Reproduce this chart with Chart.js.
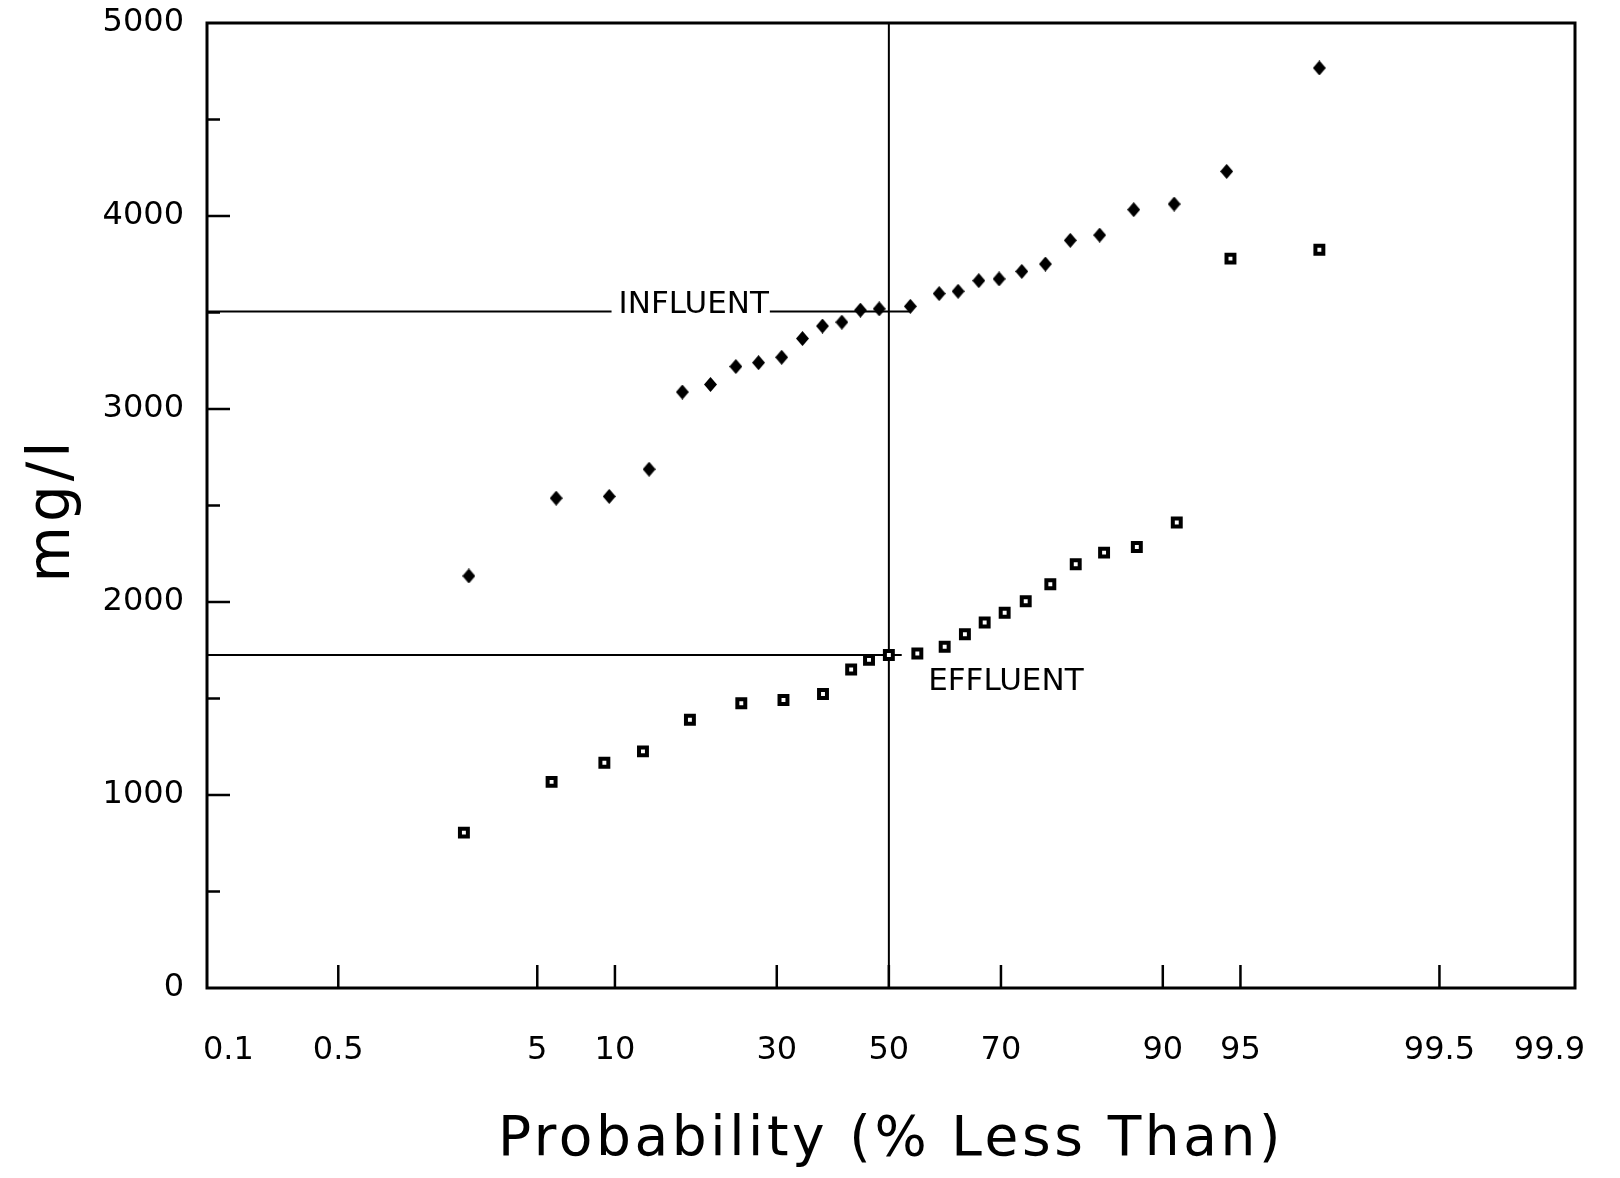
<!DOCTYPE html>
<html>
<head>
<meta charset="utf-8">
<script src="https://cdn.jsdelivr.net/npm/chart.js@4.4.0/dist/chart.umd.min.js"></script>
<style>
  html, body { margin: 0; padding: 0; background: #ffffff; }
  #wrap { width: 1620px; height: 1178px; }
</style>
</head>
<body>
<div id="wrap"><canvas id="c" width="1620" height="1178"></canvas></div>
<script>
// ---- axis definitions ----
const probTicks = [0.1, 0.5, 5, 10, 30, 50, 70, 90, 95, 99.5, 99.9];   // % less than
const xRangeZ = [-3.19, 3.21];        // axis extent in standard-normal units
const yMin = 0, yMax = 5000, yMajorStep = 1000, yMinorStep = 500;

// ---- data ----
const influentProb = [2.47, 5.98, 9.54, 13.1, 16.7, 20.2, 23.7, 27.1, 30.8, 34.3, 37.8, 41.3, 44.7, 48.2,
                      54.0, 59.3, 62.7, 66.3, 69.7, 73.3, 76.8, 80.2, 83.8, 87.4, 90.9, 94.3, 97.8];
const influentConc = [2135, 2538, 2547, 2688, 3088, 3127, 3220, 3240, 3268, 3365, 3430, 3450, 3512, 3519,
                      3532, 3598, 3610, 3665, 3674, 3713, 3751, 3874, 3901, 4033, 4062, 4231, 4767];
const effluentProb = [2.34, 5.73, 9.16, 12.5, 17.6, 24.5, 31.1, 37.9, 43.0, 46.3, 50.0, 55.3,
                      60.3, 63.9, 67.3, 70.6, 73.9, 77.5, 80.9, 84.3, 87.7, 91.1, 94.5, 97.8];
const effluentConc = [805, 1068, 1167, 1226, 1390, 1475, 1492, 1523, 1650, 1700, 1725, 1733,
                      1768, 1833, 1894, 1944, 2004, 2092, 2196, 2256, 2285, 2412, 3779, 3825];

// median reference lines
const medianProb = 50;
const influentMedian = 3505, influentLineEndProb = 53.9;
const effluentMedian = 1725, effluentLineEndProb = 52.4;

// annotation labels (anchored in data units)
const influentLabel = { text: 'INFLUENT', prob: 10.3, value: 3505 };
const effluentLabel = { text: 'EFFLUENT', prob: 57.3, value: 1543 };

const xTitle = 'Probability (% Less Than)';
const yTitle = 'mg/l';

// ---- inverse standard normal CDF (Acklam) ----
function probit(pct) {
  const p = pct / 100;
  const a = [-3.969683028665376e+01, 2.209460984245205e+02, -2.759285104469687e+02, 1.383577518672690e+02, -3.066479806614716e+01, 2.506628277459239e+00];
  const b = [-5.447609879822406e+01, 1.615858368580409e+02, -1.556989798598866e+02, 6.680131188771972e+01, -1.328068155288572e+01];
  const c = [-7.784894002430293e-03, -3.223964580411365e-01, -2.400758277161838e+00, -2.549732539343734e+00, 4.374664141464968e+00, 2.938163982698783e+00];
  const d = [7.784695709041462e-03, 3.224671290700398e-01, 2.445134137142996e+00, 3.754408661907416e+00];
  const pl = 0.02425, ph = 1 - pl;
  let q, r;
  if (p < pl) {
    q = Math.sqrt(-2 * Math.log(p));
    return (((((c[0]*q+c[1])*q+c[2])*q+c[3])*q+c[4])*q+c[5]) / ((((d[0]*q+d[1])*q+d[2])*q+d[3])*q+1);
  }
  if (p <= ph) {
    q = p - 0.5; r = q * q;
    return (((((a[0]*r+a[1])*r+a[2])*r+a[3])*r+a[4])*r+a[5])*q / (((((b[0]*r+b[1])*r+b[2])*r+b[3])*r+b[4])*r+1);
  }
  q = Math.sqrt(-2 * Math.log(1 - p));
  return -(((((c[0]*q+c[1])*q+c[2])*q+c[3])*q+c[4])*q+c[5]) / ((((d[0]*q+d[1])*q+d[2])*q+d[3])*q+1);
}

function toPoints(probs, vals) { return probs.map((p, i) => ({ x: probit(p), y: vals[i] })); }

function diamond(w, h) {
  const cv = document.createElement('canvas');
  cv.width = w; cv.height = h;
  const g = cv.getContext('2d');
  g.fillStyle = '#000';
  g.beginPath();
  g.moveTo(w / 2, 0); g.lineTo(w, h / 2); g.lineTo(w / 2, h); g.lineTo(0, h / 2);
  g.closePath(); g.fill();
  return cv;
}

const FONT = '"DejaVu Sans", "Liberation Sans", sans-serif';
Chart.defaults.color = '#000';
Chart.defaults.font.family = FONT;

const probPlot = {
  id: 'probPlot',
  afterDatasetsDraw(chart) {
    const ctx = chart.ctx, xs = chart.scales.x, ys = chart.scales.y;
    ctx.save();
    ctx.font = '31px ' + FONT;
    ctx.textBaseline = 'alphabetic';
    ctx.textAlign = 'left';
    // INFLUENT label sits on its median line
    let x = xs.getPixelForValue(probit(influentLabel.prob));
    let y = ys.getPixelForValue(influentLabel.value);
    let w = ctx.measureText(influentLabel.text).width;
    ctx.fillStyle = '#fff';
    ctx.fillRect(x - 7, y - 26, w + 8, 29);
    ctx.fillStyle = '#000';
    ctx.fillText(influentLabel.text, x, y + 1);
    // EFFLUENT label
    x = xs.getPixelForValue(probit(effluentLabel.prob));
    y = ys.getPixelForValue(effluentLabel.value);
    ctx.fillText(effluentLabel.text, x, y);
    ctx.restore();
  },
  afterDraw(chart) {
    const ctx = chart.ctx, a = chart.chartArea, xs = chart.scales.x, ys = chart.scales.y;
    ctx.save();
    ctx.strokeStyle = '#000';
    // frame
    ctx.lineWidth = 3;
    ctx.strokeRect(a.left, a.top, a.right - a.left, a.bottom - a.top);
    // inward tick marks
    ctx.lineWidth = 2.5;
    ctx.beginPath();
    for (let v = yMin + yMinorStep; v < yMax; v += yMinorStep) {
      const py = ys.getPixelForValue(v);
      const len = (v % yMajorStep === 0) ? 23 : 13;
      ctx.moveTo(a.left, py); ctx.lineTo(a.left + len, py);
    }
    probTicks.forEach((p, i) => {
      if (i === 0 || i === probTicks.length - 1) return;
      const px = xs.getPixelForValue(probit(p));
      ctx.moveTo(px, a.bottom); ctx.lineTo(px, a.bottom - 23);
    });
    ctx.stroke();
    // axis titles
    ctx.fillStyle = '#000';
    ctx.font = '55px ' + FONT;
    ctx.letterSpacing = '3.6px';
    ctx.textAlign = 'center';
    ctx.textBaseline = 'alphabetic';
    ctx.fillText(xTitle, (a.left + a.right) / 2, a.bottom + 167);
    ctx.font = '58px ' + FONT;
    ctx.letterSpacing = '4px';
    ctx.translate(69, a.top + 487);
    ctx.rotate(-Math.PI / 2);
    ctx.fillText(yTitle, 0, 0);
    ctx.restore();
  }
};

new Chart(document.getElementById('c'), {
  type: 'scatter',
  data: {
    datasets: [
      { label: 'Influent', data: toPoints(influentProb, influentConc),
        pointStyle: diamond(13, 15), pointRadius: 7, order: 1 },
      { label: 'Effluent', data: toPoints(effluentProb, effluentConc),
        pointStyle: 'rect', pointRadius: 5.6, borderWidth: 4, borderColor: '#000',
        backgroundColor: '#fff', order: 1 },
      { label: 'Influent median', showLine: true, order: 3, pointRadius: 0, borderWidth: 2, borderColor: '#000',
        data: [{ x: xRangeZ[0], y: influentMedian }, { x: probit(influentLineEndProb), y: influentMedian }] },
      { label: 'Effluent median', showLine: true, order: 3, pointRadius: 0, borderWidth: 2, borderColor: '#000',
        data: [{ x: xRangeZ[0], y: effluentMedian }, { x: probit(effluentLineEndProb), y: effluentMedian }] },
      { label: '50 %', showLine: true, order: 3, pointRadius: 0, borderWidth: 2, borderColor: '#000',
        data: [{ x: probit(medianProb), y: yMin }, { x: probit(medianProb), y: yMax }] }
    ]
  },
  options: {
    responsive: false,
    animation: false,
    devicePixelRatio: 1,
    layout: { padding: { top: 23, right: 45, bottom: 0, left: 0 } },
    plugins: { legend: { display: false }, tooltip: { enabled: false } },
    scales: {
      x: {
        type: 'linear', min: xRangeZ[0], max: xRangeZ[1],
        grid: { display: false, drawTicks: false },
        border: { display: false },
        afterBuildTicks(scale) { scale.ticks = probTicks.map(p => ({ value: probit(p) })); },
        afterFit(scale) {
          scale.height = 190;
          scale.paddingLeft = 0; scale.paddingRight = 0; scale.paddingTop = 0; scale.paddingBottom = 0;
        },
        ticks: {
          autoSkip: false, maxRotation: 0, minRotation: 0, padding: 43,
          font: { size: 32, family: FONT }, color: '#000',
          callback: (v, i) => String(probTicks[i])
        }
      },
      y: {
        type: 'linear', min: yMin, max: yMax,
        grid: { display: false, drawTicks: false },
        border: { display: false },
        afterFit(scale) {
          scale.width = 207;
          scale.paddingLeft = 0; scale.paddingRight = 0; scale.paddingTop = 0; scale.paddingBottom = 0;
        },
        ticks: { stepSize: yMajorStep, padding: 23, font: { size: 32, family: FONT }, color: '#000',
                 callback: v => String(v) }
      }
    }
  },
  plugins: [probPlot]
});
</script>
</body>
</html>
